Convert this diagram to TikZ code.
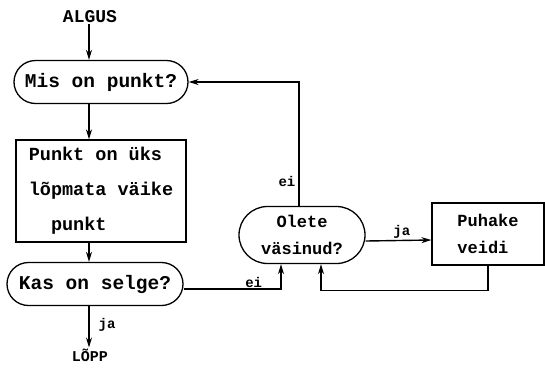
\documentclass[tikz,border=0pt]{standalone}
\usepackage{fontspec}
\setmonofont{Liberation Mono}
\usetikzlibrary{shapes.misc,positioning,arrows.meta,calc}

\begin{document}
\begin{tikzpicture}[x=1pt,y=-1pt,
    term/.style={rounded rectangle,line width=1.3pt,draw,align=center,
		inner sep=2pt,font=\ttfamily\bfseries\fontsize{17}{27}\selectfont},
    proc/.style={rectangle,line width=1.3pt,draw,align=left,
		inner sep=2pt,font=\ttfamily\bfseries\fontsize{17}{27}\selectfont},
    big/.style={font=\ttfamily\bfseries\fontsize{19.5}{35}\selectfont},
% Labels on the flow lines
    lbl/.style={inner sep=1pt,font=\ttfamily\bfseries\fontsize{14}{16}\selectfont},
    flow/.style={-{Stealth[length=10pt,width=6pt]},line width=1.4pt}
    ]
\useasboundingbox (0,0) rectangle (545,373);

\coordinate (spine) at (89,0);
\node [lbl,font=\ttfamily\bfseries\fontsize{18}{20}\selectfont] (start) at (90,17) {ALGUS};
\node [term,big,minimum width=178pt,minimum height=43pt] (question) at (101,82) {Mis on punkt?};
\node [proc,big,minimum width=170pt,minimum height=102pt,
	font=\ttfamily\bfseries\fontsize{18.5}{35}\selectfont] (answer) at (101,191)
	{Punkt on üks\\lõpmata väike\\~~punkt};
\node [term,big,minimum width=180pt,minimum height=43pt] (clear) at (95,284) {Kas on selge?};
\node [lbl,font=\ttfamily\bfseries\fontsize{15}{17}\selectfont] (stop) at (90,355) {LÕPP};
\node [term,minimum width=130pt,minimum height=57pt] (tired) at (302,235) {Olete\\väsinud?};
\node [proc,minimum width=112pt,minimum height=62pt] (rest) at (488,234) {Puhake\\veidi};

\draw [flow] (start.south -| spine) -- (question.north -| spine);
\draw [flow] (question.south -| spine) -- (answer.north -| spine);
\draw [flow] (answer.south -| spine) -- (clear.north -| spine);
\draw [flow] (clear.south -| spine) -- (stop.north -| spine)
	node [lbl,pos=0.45,right=8pt] {ja};
\draw [flow] ([yshift=-5pt]clear.east) -| ([xshift=-21pt]tired.south)
	node [lbl,pos=0.36,above] {ei};
\draw [flow] ([xshift=-3pt]tired.north) |- (question.east)
	node [lbl,pos=0.1,left=2pt] {ei};
\draw [flow] ([yshift=-6pt]tired.east) -- ([yshift=-6pt]rest.west)
	node [lbl,pos=0.55,above] {ja};
\draw [flow] (rest.south) -- ++(0,25) -| ([xshift=19pt]tired.south);
\end{tikzpicture}
\end{document}
